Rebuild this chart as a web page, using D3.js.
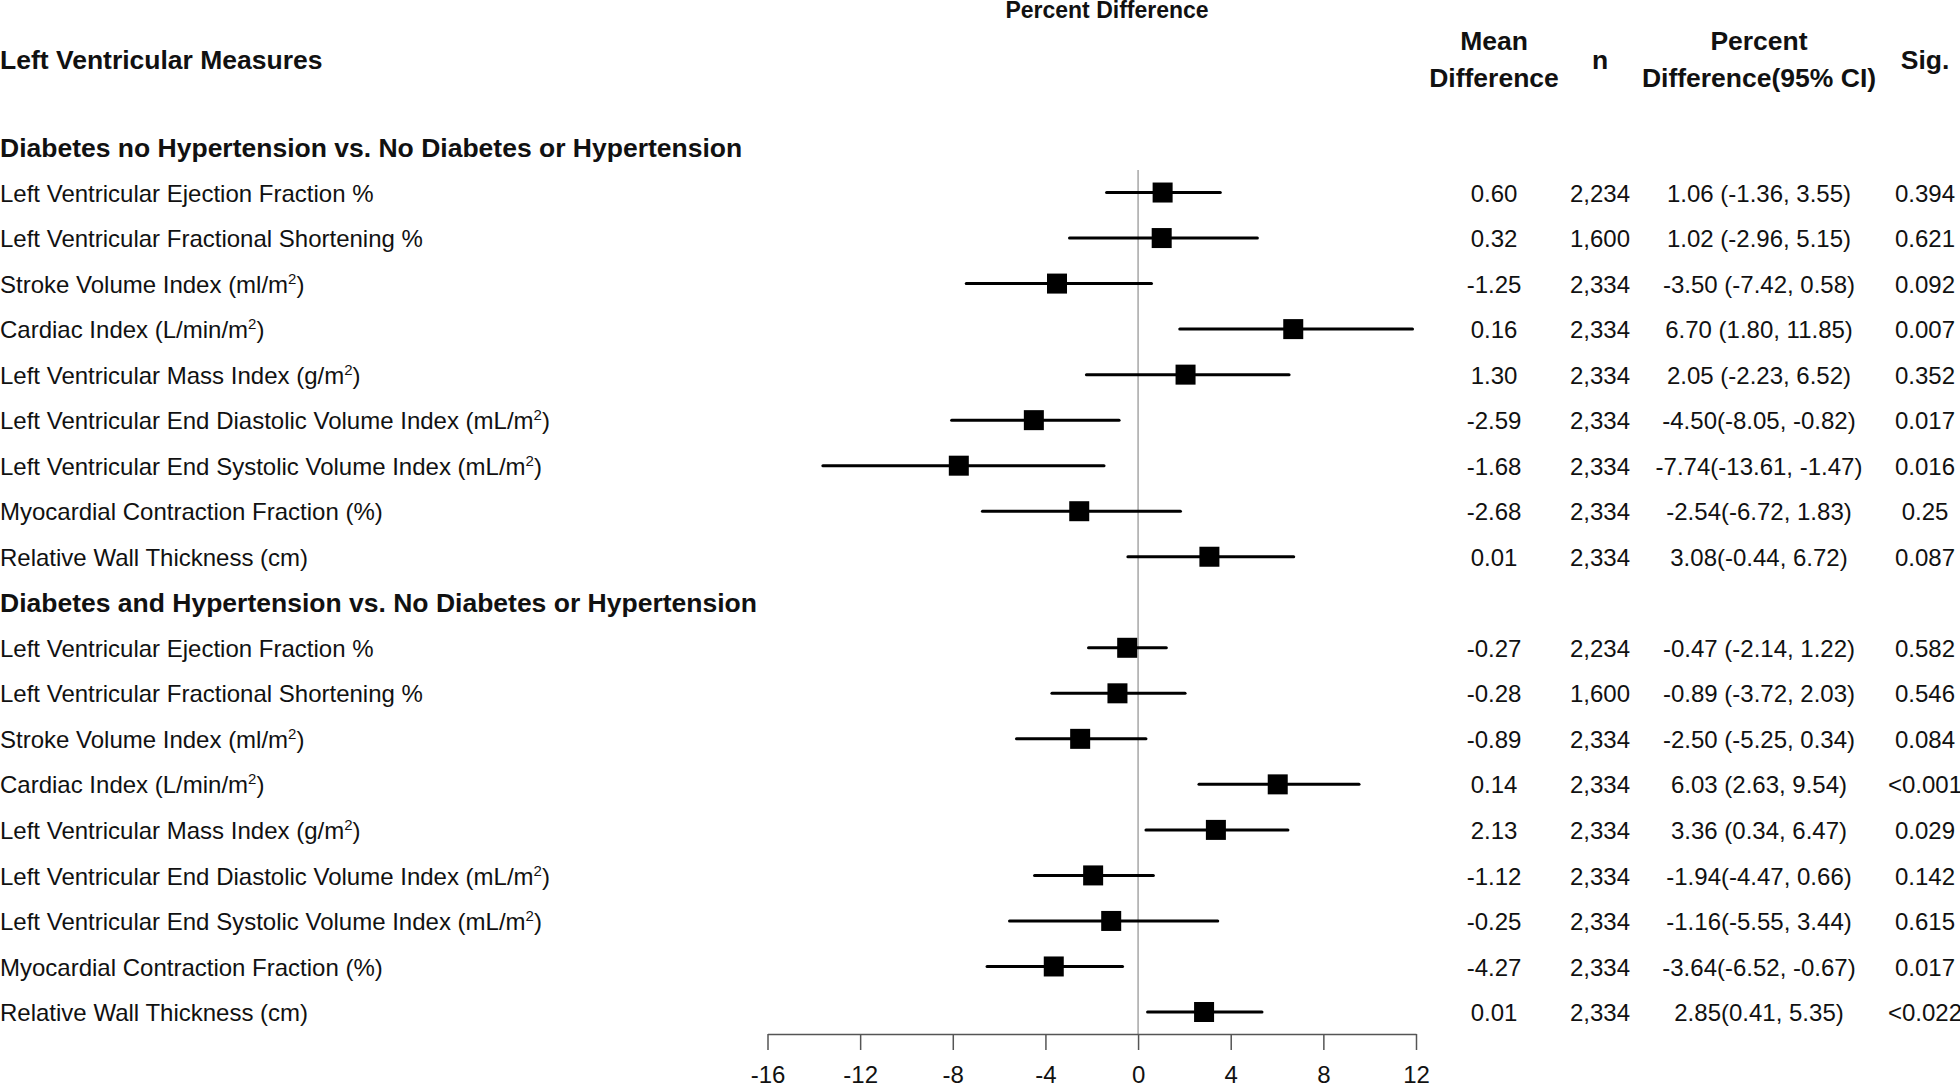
<!DOCTYPE html>
<html>
<head>
<meta charset="utf-8">
<script src="https://cdn.jsdelivr.net/npm/d3@7"></script>
<style>
  body { margin: 0; background: #fff; }
  svg { display: block; }
  text { font-family: "Liberation Sans", Arial, sans-serif; fill: #111; }
  .hdr { font-weight: bold; }
</style>
</head>
<body>
<svg id="chart"></svg>
<script>
const W = 1960, H = 1086;

const groupTitles = [
  "Diabetes no Hypertension vs. No Diabetes or Hypertension",
  "Diabetes and Hypertension vs. No Diabetes or Hypertension"
];

const measures = [
  "Left Ventricular Ejection Fraction %",
  "Left Ventricular Fractional Shortening %",
  "Stroke Volume Index (ml/m²)",
  "Cardiac Index (L/min/m²)",
  "Left Ventricular Mass Index (g/m²)",
  "Left Ventricular End Diastolic Volume Index (mL/m²)",
  "Left Ventricular End Systolic Volume Index (mL/m²)",
  "Myocardial Contraction Fraction (%)",
  "Relative Wall Thickness (cm)"
];

// group 1: diabetes no hypertension
const meanDiff1 = ["0.60", "0.32", "-1.25", "0.16", "1.30", "-2.59", "-1.68", "-2.68", "0.01"];
const n1 = ["2,234", "1,600", "2,334", "2,334", "2,334", "2,334", "2,334", "2,334", "2,334"];
const pct1 = [1.06, 1.02, -3.50, 6.70, 2.05, -4.50, -7.74, -2.54, 3.08];
const lo1 = [-1.36, -2.96, -7.42, 1.80, -2.23, -8.05, -13.61, -6.72, -0.44];
const hi1 = [3.55, 5.15, 0.58, 11.85, 6.52, -0.82, -1.47, 1.83, 6.72];
const ciText1 = ["1.06 (-1.36, 3.55)", "1.02 (-2.96, 5.15)", "-3.50 (-7.42, 0.58)", "6.70 (1.80, 11.85)",
  "2.05 (-2.23, 6.52)", "-4.50(-8.05, -0.82)", "-7.74(-13.61, -1.47)", "-2.54(-6.72, 1.83)", "3.08(-0.44, 6.72)"];
const sig1 = ["0.394", "0.621", "0.092", "0.007", "0.352", "0.017", "0.016", "0.25", "0.087"];

// group 2: diabetes and hypertension
const meanDiff2 = ["-0.27", "-0.28", "-0.89", "0.14", "2.13", "-1.12", "-0.25", "-4.27", "0.01"];
const n2 = ["2,234", "1,600", "2,334", "2,334", "2,334", "2,334", "2,334", "2,334", "2,334"];
const pct2 = [-0.47, -0.89, -2.50, 6.03, 3.36, -1.94, -1.16, -3.64, 2.85];
const lo2 = [-2.14, -3.72, -5.25, 2.63, 0.34, -4.47, -5.55, -6.52, 0.41];
const hi2 = [1.22, 2.03, 0.34, 9.54, 6.47, 0.66, 3.44, -0.67, 5.35];
const ciText2 = ["-0.47 (-2.14, 1.22)", "-0.89 (-3.72, 2.03)", "-2.50 (-5.25, 0.34)", "6.03 (2.63, 9.54)",
  "3.36 (0.34, 6.47)", "-1.94(-4.47, 0.66)", "-1.16(-5.55, 3.44)", "-3.64(-6.52, -0.67)", "2.85(0.41, 5.35)"];
const sig2 = ["0.582", "0.546", "0.084", "<0.001", "0.029", "0.142", "0.615", "0.017", "<0.022"];

const xTicks = [-16, -12, -8, -4, 0, 4, 8, 12];

// flatten into rows: a header row then 9 measure rows per group
let rows = [];
[[meanDiff1, n1, pct1, lo1, hi1, ciText1, sig1], [meanDiff2, n2, pct2, lo2, hi2, ciText2, sig2]]
  .forEach(function(g, gi) {
    rows.push({ header: true, label: groupTitles[gi] });
    measures.forEach(function(m, i) {
      rows.push({ header: false, label: m, mean: g[0][i], n: g[1][i], pct: g[2][i],
        lo: g[3][i], hi: g[4][i], ci: g[5][i], sig: g[6][i] });
    });
  });
rows.forEach(function(d, i) { d.idx = i; });

const svg = d3.select("#chart").attr("width", W).attr("height", H);

const x = d3.scaleLinear().domain([-16, 12]).range([767.5, 1416]);
const y = d3.scalePoint().domain(d3.range(rows.length)).range([147, 1012]);
const axisY = 1034;

const colMean = 1494, colN = 1600, colCI = 1759, colSig = 1925;
const fs = 24, hfs = 26.5;

// titles
svg.append("text").attr("class", "hdr")
  .attr("x", 1107).attr("y", 10).attr("dy", "0.35em")
  .attr("text-anchor", "middle").style("font-size", "23px")
  .text("Percent Difference");

svg.append("text").attr("class", "hdr")
  .attr("x", 0).attr("y", 59).attr("dy", "0.36em").style("font-size", hfs + "px")
  .text("Left Ventricular Measures");

function twoLine(cx, a, b) {
  let t = svg.append("text").attr("class", "hdr").attr("text-anchor", "middle").style("font-size", hfs + "px");
  t.append("tspan").attr("x", cx).attr("y", 40).attr("dy", "0.36em").text(a);
  t.append("tspan").attr("x", cx).attr("y", 77).attr("dy", "0.36em").text(b);
}
twoLine(colMean, "Mean", "Difference");
twoLine(colCI, "Percent", "Difference(95% CI)");
svg.append("text").attr("class", "hdr").attr("x", colN).attr("y", 59).attr("dy", "0.36em")
  .attr("text-anchor", "middle").style("font-size", hfs + "px").text("n");
svg.append("text").attr("class", "hdr").attr("x", colSig).attr("y", 59).attr("dy", "0.36em")
  .attr("text-anchor", "middle").style("font-size", hfs + "px").text("Sig.");

// row labels
const lab = svg.append("g").selectAll("text").data(rows).enter().append("text")
  .attr("class", function(d) { return d.header ? "hdr" : null; })
  .attr("x", 0).attr("y", function(d) { return y(d.idx); }).attr("dy", "0.38em")
  .style("font-size", function(d) { return d.header ? hfs + "px" : fs + "px"; });

lab.each(function(d) {
  let parts = d.label.split("²");
  let t = d3.select(this);
  t.append("tspan").text(parts[0]);
  if (parts.length > 1) {
    t.append("tspan").attr("dy", -9).style("font-size", "15px").text("2");
    t.append("tspan").attr("dy", 9).text(parts[1]);
  }
});

// table columns
const dataRows = rows.filter(function(d) { return !d.header; });
[["mean", colMean], ["n", colN], ["ci", colCI], ["sig", colSig]].forEach(function(c) {
  svg.append("g").selectAll("text").data(dataRows).enter().append("text")
    .attr("x", c[1]).attr("y", function(d) { return y(d.idx); }).attr("dy", "0.38em")
    .attr("text-anchor", "middle").style("font-size", fs + "px")
    .text(function(d) { return d[c[0]]; });
});

// zero reference line
svg.append("line")
  .attr("x1", x(0)).attr("x2", x(0)).attr("y1", 170).attr("y2", axisY)
  .attr("stroke", "#999").attr("stroke-width", 1.3);

// confidence intervals
svg.append("g").selectAll("line").data(dataRows).enter().append("line")
  .attr("x1", function(d) { return x(d.lo); }).attr("x2", function(d) { return x(d.hi); })
  .attr("y1", function(d) { return y(d.idx); }).attr("y2", function(d) { return y(d.idx); })
  .attr("stroke", "#000").attr("stroke-width", 3).attr("stroke-linecap", "round");

const sq = 20;
svg.append("g").selectAll("rect").data(dataRows).enter().append("rect")
  .attr("x", function(d) { return x(d.pct) - sq / 2; })
  .attr("y", function(d) { return y(d.idx) - sq / 2; })
  .attr("width", sq).attr("height", sq).attr("fill", "#000");

// x axis
const ax = svg.append("g").attr("transform", "translate(0," + axisY + ")")
  .call(d3.axisBottom(x).tickValues(xTicks).tickSize(16).tickSizeOuter(0).tickPadding(16)
    .tickFormat(function(d) { return String(d); }));
ax.select(".domain").attr("stroke", "#555").attr("stroke-width", 1.5);
ax.selectAll(".tick line").attr("stroke", "#555").attr("stroke-width", 1.5);
ax.selectAll(".tick text").style("font-size", fs + "px")
  .style("font-family", "'Liberation Sans', Arial, sans-serif").attr("fill", "#111");
</script>
</body>
</html>
